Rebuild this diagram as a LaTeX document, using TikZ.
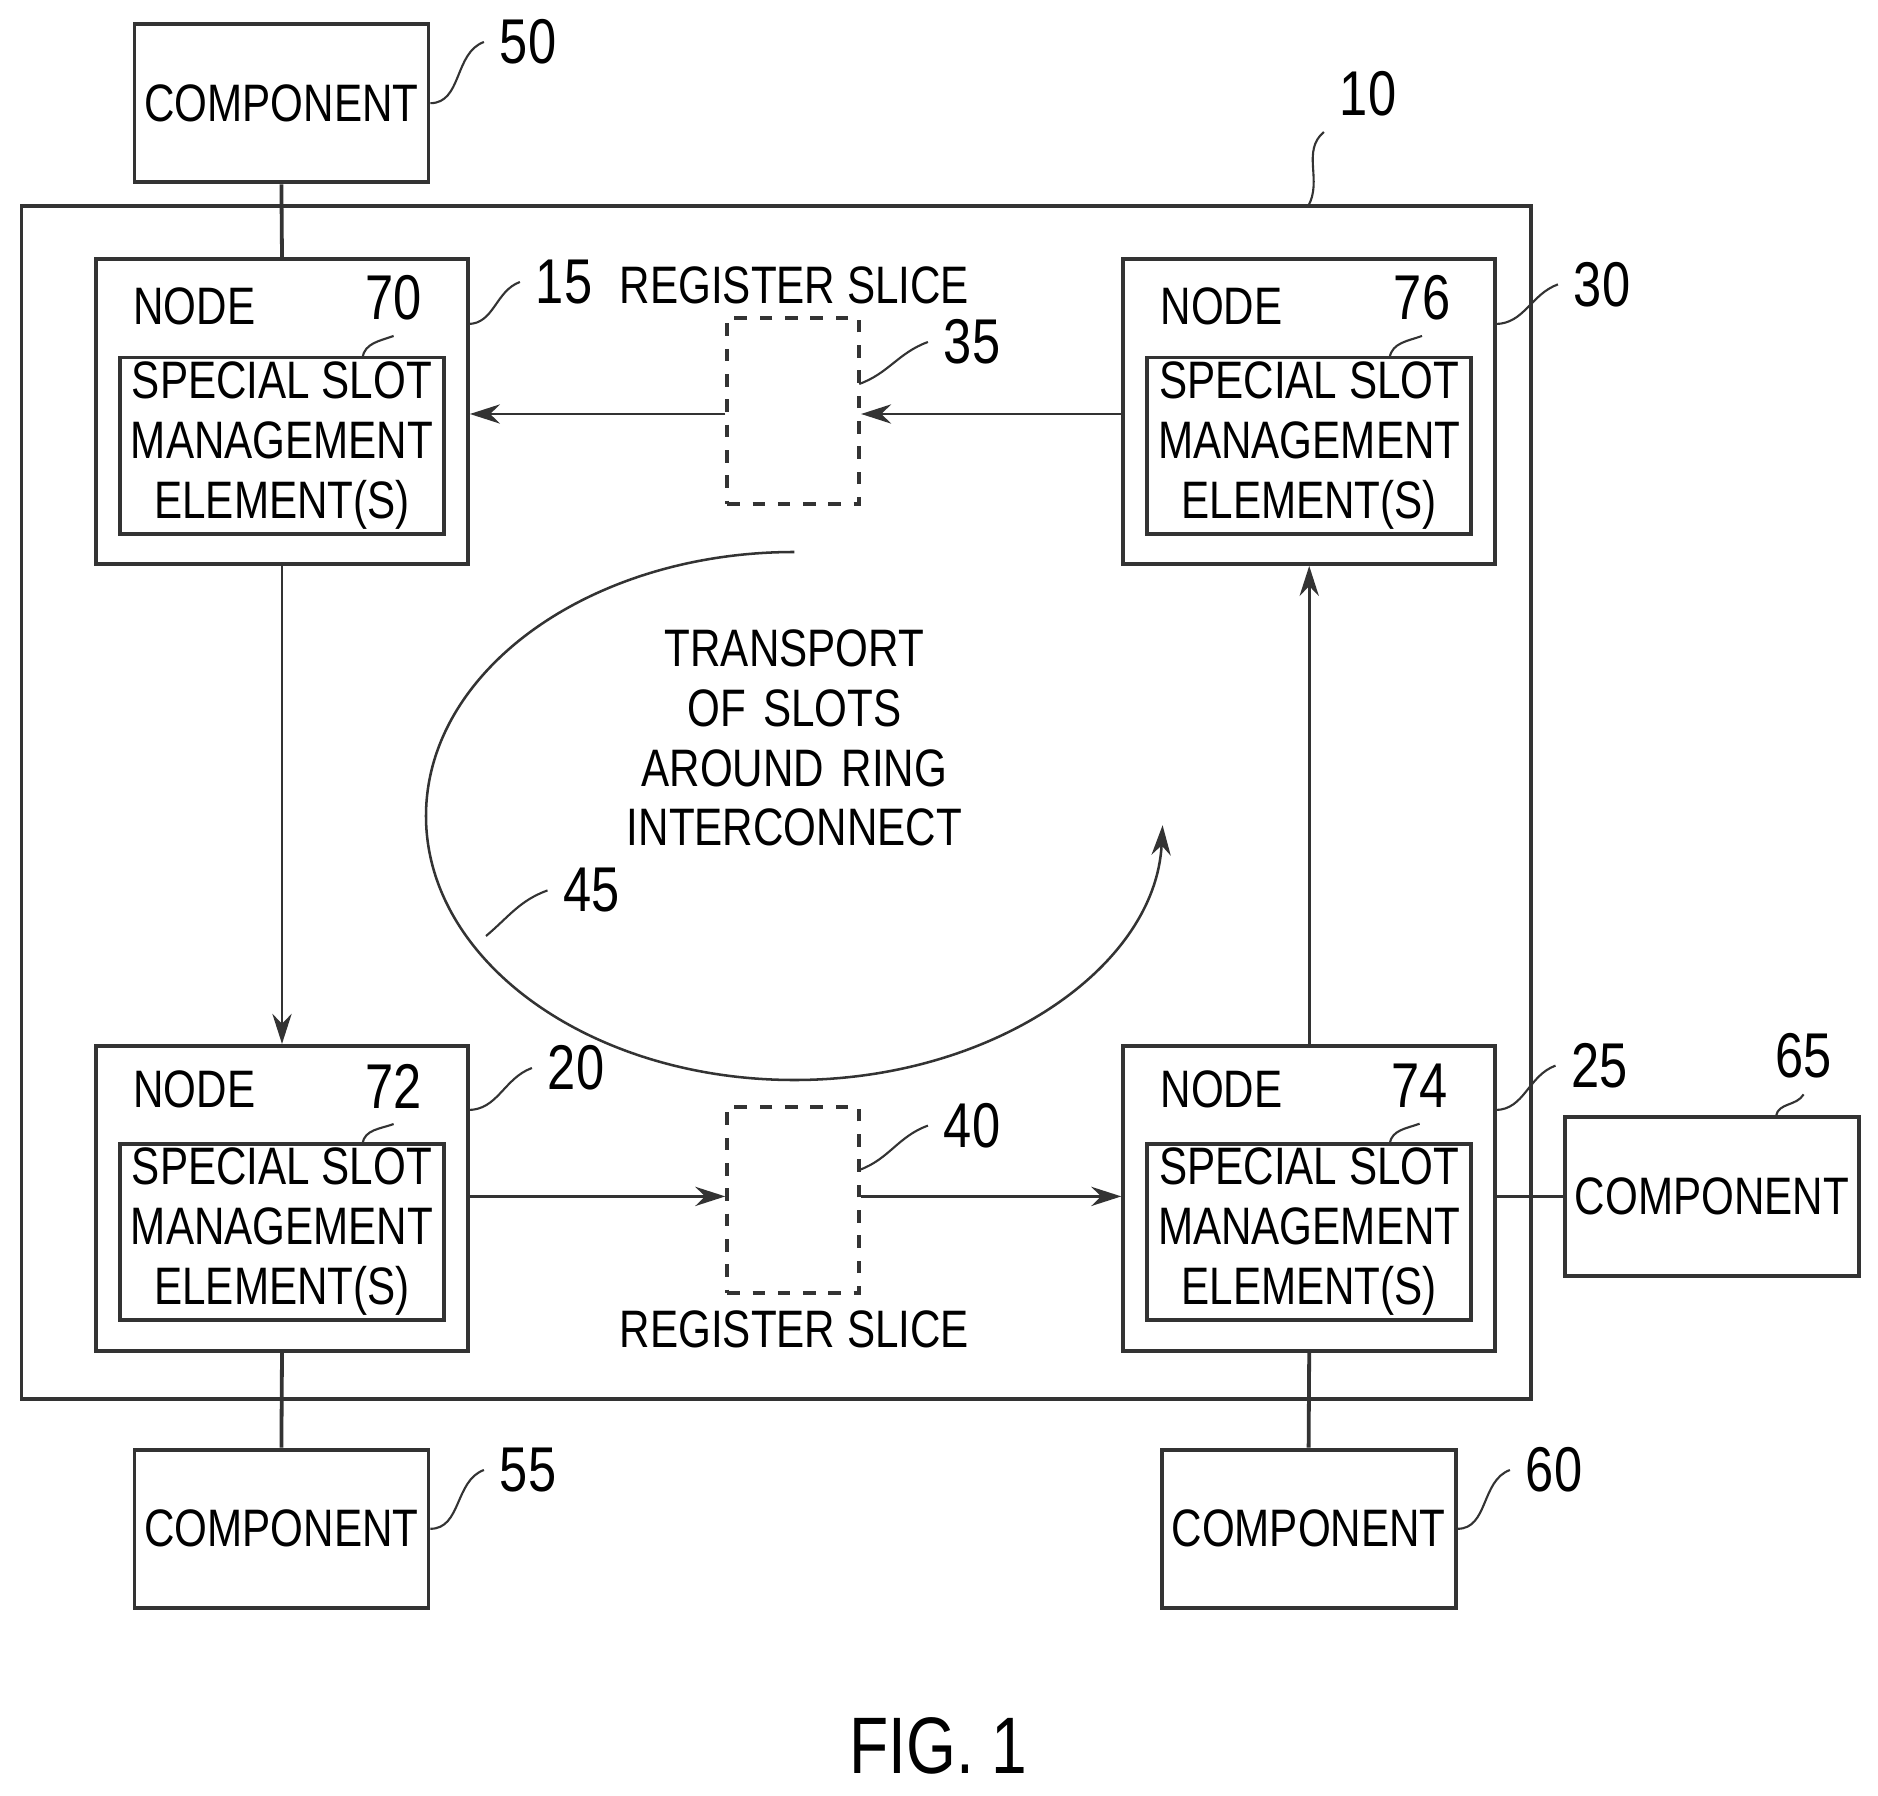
\documentclass[tikz,border=0pt]{standalone}
\usepackage{fontspec}
\setmainfont{Liberation Sans}[FakeStretch=0.8]
\usetikzlibrary{arrows.meta,positioning}
\begin{document}
\begin{tikzpicture}[font = \fontsize{12.5}{14.2}\selectfont,
        line width = 0.9pt, draw = black!80,
        box/.style = {draw, minimum width = 2.45cm, minimum height = 1.32cm, inner sep = 0pt},
        outerbox/.style = {draw, minimum width = 3.1cm, minimum height = 2.54cm},
        innerbox/.style = {draw, minimum width = 2.7cm, minimum height = 1.47cm, align = center, inner sep = 0pt},
        slice/.style = {draw, dashed, minimum width = 1.1cm, minimum height = 1.55cm},
        link/.style = {-{Stealth[length = 2.5mm, width = 1.6mm]}, line width = 0.7pt},
        lead/.style = {line width = 0.5pt},
        num/.style = {font = \fontsize{15}{15}\selectfont}]
    \useasboundingbox (0, 0) rectangle (15.65, -14.96);

    % ring interconnect
    \node [draw, minimum width = 12.58cm, minimum height = 9.94cm] (ring) at (6.47, -6.69) {};
    \node [num] (n10) at (11.40, -0.78) {10};
    \draw [lead] (10.90, -1.72) to [out = 60, in = 220] (n10.south west);

    % nodes
    \node [outerbox] (node15) at (2.35, -3.43) {};
    \node [outerbox] (node30) at (10.91, -3.43) {};
    \node [outerbox] (node20) at (2.35, -9.985) {};
    \node [outerbox] (node25) at (10.91, -9.985) {};

    \node [innerbox] (elem70) at (2.35, -3.715) {SPECIAL SLOT\\MANAGEMENT\\ELEMENT(S)};
    \node [innerbox] (elem76) at (10.91, -3.715) {SPECIAL SLOT\\MANAGEMENT\\ELEMENT(S)};
    \node [innerbox] (elem72) at (2.35, -10.265) {SPECIAL SLOT\\MANAGEMENT\\ELEMENT(S)};
    \node [innerbox] (elem74) at (10.91, -10.265) {SPECIAL SLOT\\MANAGEMENT\\ELEMENT(S)};

    \node (t15) at (1.62, -2.55) {NODE};
    \node (t30) at (10.18, -2.55) {NODE};
    \node (t20) at (1.62, -9.08) {NODE};
    \node (t25) at (10.18, -9.08) {NODE};

    \node [num] (n70) at (3.28, -2.48) {70};
    \node [num] (n76) at (11.85, -2.48) {76};
    \node [num] (n72) at (3.28, -9.05) {72};
    \node [num] (n74) at (11.83, -9.05) {74};
    \draw [lead] (3.02, -2.98) to [out = 80, in = 200] (n70.south);
    \draw [lead] (11.58, -2.98) to [out = 80, in = 200] (n76.south);
    \draw [lead] (3.02, -9.53) to [out = 80, in = 200] (n72.south);
    \draw [lead] (11.58, -9.53) to [out = 80, in = 200] (n74.south);

    \node [num] (n15) at (4.70, -2.35) {15};
    \node [num] (n30) at (13.35, -2.37) {30};
    \node [num] (n20) at (4.80, -8.90) {20};
    \node [num] (n25) at (13.33, -8.88) {25};
    \draw [lead] (3.90, -2.70) to [out = 0, in = 200] (n15.west);
    \draw [lead] (12.46, -2.70) to [out = 0, in = 200] (n30.west);
    \draw [lead] (3.90, -9.25) to [out = 0, in = 200] (n20.west);
    \draw [lead] (12.46, -9.25) to [out = 0, in = 200] (n25.west);

    % register slices
    \node [slice] (slice35) at (6.61, -3.425) {};
    \node [slice] (slice40) at (6.61, -10.00) {};
    \node (t35) at (6.62, -2.38) {REGISTER SLICE};
    \node (t40) at (6.62, -11.08) {REGISTER SLICE};
    \node [num] (n35) at (8.10, -2.85) {35};
    \node [num] (n40) at (8.10, -9.38) {40};
    \draw [lead] (7.16, -3.20) to [out = 20, in = 200] (n35.west);
    \draw [lead] (7.16, -9.75) to [out = 20, in = 200] (n40.west);

    % links
    \draw [link] (node30.west |- 0, -3.45) -- (slice35.east |- 0, -3.45);
    \draw [link] (slice35.west |- 0, -3.45) -- (node15.east |- 0, -3.45);
    \draw [link] (node15.south) -- (node20.north);
    \draw [link] (node20.east |- 0, -9.97) -- (slice40.west |- 0, -9.97);
    \draw [link] (slice40.east |- 0, -9.97) -- (node25.west |- 0, -9.97);
    \draw [link] (node25.north) -- (node30.south);

    % transport
    \node [align = center, text width = 3cm] (transport) at (6.62, -6.15)
        {TRANSPORT\\OF SLOTS\\AROUND RING\\INTERCONNECT};
    \draw [link, line width = 0.6pt] (6.62, -4.60) arc [start angle = 90, end angle = 358, x radius = 3.07cm, y radius = 2.2cm];
    \node [num] (n45) at (4.93, -7.42) {45};
    \draw [lead] (4.05, -7.80) to [out = 40, in = 200] (n45.west);

    % components
    \node [box] (comp50) at (2.345, -0.86) {COMPONENT};
    \node [box] (comp55) at (2.345, -12.74) {COMPONENT};
    \node [box] (comp60) at (10.905, -12.74) {COMPONENT};
    \node [box] (comp65) at (14.265, -9.97) {COMPONENT};
    \draw (comp50.south) -- (node15.north);
    \draw (node20.south) -- (comp55.north);
    \draw (node25.south) -- (comp60.north);
    \draw (node25.east |- comp65.west) -- (comp65.west);

    \node [num] (n50) at (4.40, -0.35) {50};
    \node [num] (n55) at (4.40, -12.25) {55};
    \node [num] (n60) at (12.95, -12.25) {60};
    \node [num] (n65) at (15.03, -8.80) {65};
    \draw [lead] (comp50.east) to [out = 0, in = 200] (n50.west);
    \draw [lead] (comp55.east) to [out = 0, in = 200] (n55.west);
    \draw [lead] (comp60.east) to [out = 0, in = 200] (n60.west);
    \draw [lead] (14.80, -9.30) to [out = 80, in = 240] (n65.south);

    \node [font = \fontsize{19}{19}\selectfont] (fig) at (7.82, -14.55) {FIG. 1};
\end{tikzpicture}
\end{document}
